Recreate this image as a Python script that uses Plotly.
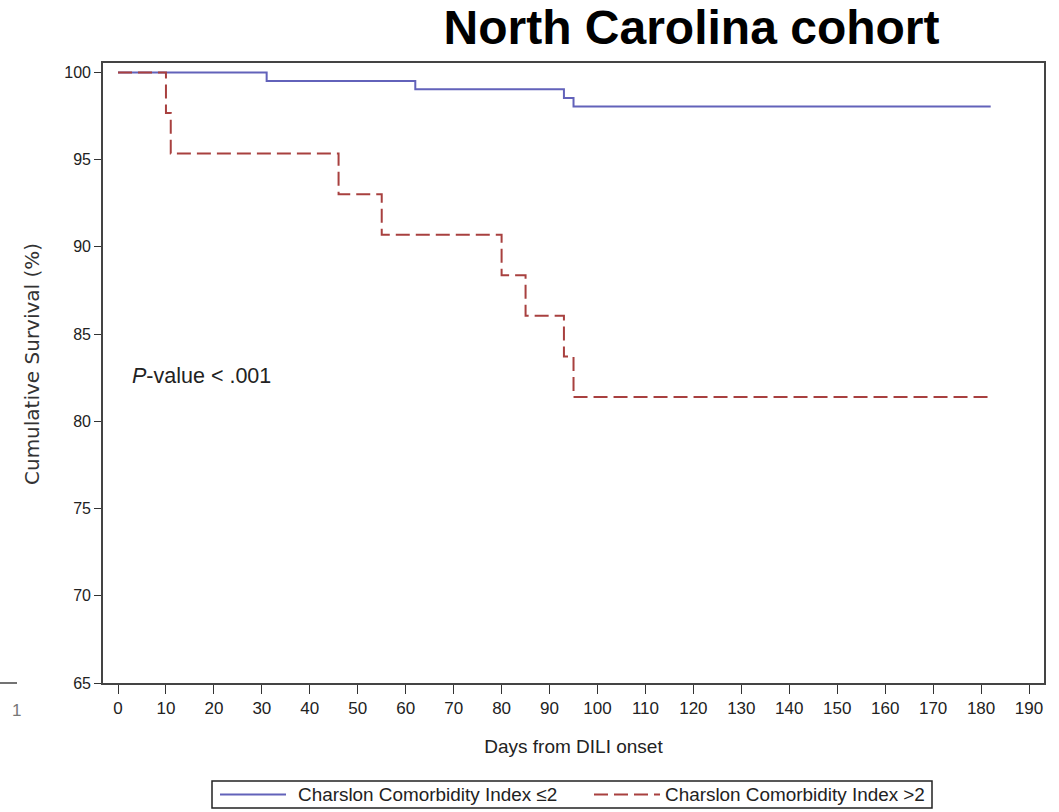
import plotly.graph_objects as go

# Kaplan-Meier step estimates (days from onset, cumulative survival %)
days_low = [0, 31, 62, 93, 95, 182]
surv_low = [100.0, 99.51, 99.03, 98.54, 98.05, 98.05]

days_high = [0, 10, 11, 46, 55, 80, 85, 93, 95, 182]
surv_high = [100.0, 97.67, 95.35, 93.02, 90.70, 88.37, 86.05, 83.72, 81.40, 81.40]

label_low = "Charslon Comorbidity Index \u22642"
label_high = "Charslon Comorbidity Index >2"

x_ticks = list(range(0, 191, 10))
y_ticks = list(range(65, 101, 5))

BLUE = "#6262ba"
RED = "#a8403f"
SANS = "Liberation Sans, Arial, sans-serif"

fig = go.Figure()
fig.add_trace(go.Scatter(x=days_low, y=surv_low, mode="lines", line_shape="hv",
                         line=dict(color=BLUE, width=2), name=label_low, showlegend=False))
fig.add_trace(go.Scatter(x=days_high, y=surv_high, mode="lines", line_shape="hv",
                         line=dict(color=RED, width=2, dash="14px,6px"), name=label_high,
                         showlegend=False))

fig.update_layout(
    width=1059, height=812,
    margin=dict(l=103, r=15, t=63, b=129),
    paper_bgcolor="white", plot_bgcolor="white",
    title=dict(text="<b>North Carolina cohort</b>", x=0.653, xanchor="center",
               y=0.967, yanchor="middle",
               font=dict(family=SANS, size=48, color="black")),
    xaxis=dict(range=[-3.13, 193.12], tickvals=x_ticks, ticks="outside", ticklen=9,
               tickcolor="#333", tickwidth=1.3, showgrid=False, zeroline=False,
               showline=True, linecolor="#444", linewidth=1.6, mirror=True,
               tickfont=dict(family=SANS, size=17, color="#222"),
               title=dict(text="Days from DILI onset", standoff=22,
                          font=dict(family=SANS, size=19, color="#222"))),
    yaxis=dict(range=[65, 100.54], tickvals=y_ticks, ticks="outside", ticklen=7,
               tickcolor="#333", tickwidth=1.3, showgrid=False, zeroline=False,
               showline=True, linecolor="#444", linewidth=1.6, mirror=True,
               tickfont=dict(family=SANS, size=16, color="#222")),
)

PW, PH = 941.0, 620.0
def px(xpix):
    return (xpix - 103) / PW
def py(ypix):
    return (683 - ypix) / PH

# vertical axis title
fig.add_annotation(xref="paper", yref="paper", x=px(32), y=py(364), xanchor="center",
                   yanchor="middle", textangle=-90, text="Cumulative Survival (%)",
                   showarrow=False,
                   font=dict(family="DejaVu Sans, Verdana, sans-serif", size=20, color="#333"))

# p-value note inside the plot
fig.add_annotation(x=2.6, y=82.6, xref="x", yref="y", xanchor="left", yanchor="middle",
                   text="<i>P</i>-value < .001", showarrow=False,
                   font=dict(family=SANS, size=21.5, color="#222"))

# legend box drawn below the axes
fig.add_shape(type="rect", xref="paper", yref="paper",
              x0=px(212), x1=px(932), y0=py(781), y1=py(808),
              line=dict(color="#222", width=1.5), fillcolor="white")
fig.add_shape(type="line", xref="paper", yref="paper",
              x0=px(220), x1=px(286), y0=py(794.5), y1=py(794.5),
              line=dict(color=BLUE, width=2))
fig.add_shape(type="line", xref="paper", yref="paper",
              x0=px(594), x1=px(660), y0=py(794.5), y1=py(794.5),
              line=dict(color=RED, width=2, dash="14px,6px"))
fig.add_annotation(xref="paper", yref="paper", x=px(296), y=py(794.5), xanchor="left",
                   yanchor="middle", text=label_low, showarrow=False,
                   font=dict(family=SANS, size=18.9, color="#222"))
fig.add_annotation(xref="paper", yref="paper", x=px(663), y=py(794.5), xanchor="left",
                   yanchor="middle", text=label_high, showarrow=False,
                   font=dict(family=SANS, size=18.9, color="#222"))

# stray slide fragment at the left edge
fig.add_shape(type="line", xref="paper", yref="paper",
              x0=px(0), x1=px(17), y0=py(683), y1=py(683),
              line=dict(color="#444", width=1.5))
fig.add_annotation(xref="paper", yref="paper", x=px(23), y=py(710), xanchor="right",
                   yanchor="middle", text="1", showarrow=False,
                   font=dict(family=SANS, size=17, color="#777"))

fig.write_html("out.html")
